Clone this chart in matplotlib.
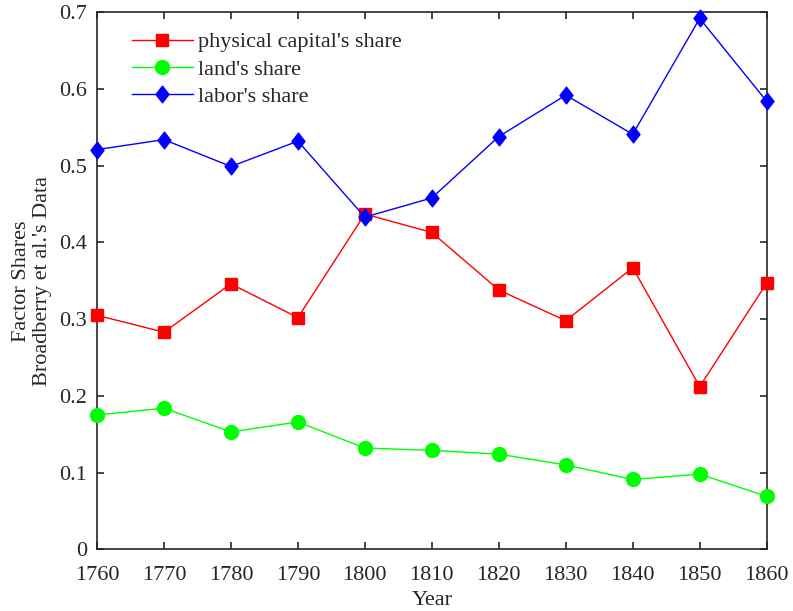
import matplotlib
matplotlib.use("Agg")
import matplotlib.pyplot as plt
from matplotlib.path import Path

years = [1760, 1770, 1780, 1790, 1800, 1810, 1820, 1830, 1840, 1850, 1860]
capital_share = [0.305, 0.283, 0.346, 0.302, 0.437, 0.413, 0.338, 0.298, 0.367, 0.212, 0.347]
land_share = [0.175, 0.184, 0.153, 0.166, 0.132, 0.129, 0.124, 0.110, 0.091, 0.098, 0.069]
labor_share = [0.521, 0.534, 0.499, 0.532, 0.433, 0.458, 0.538, 0.592, 0.541, 0.692, 0.584]

x_ticks = [1760, 1770, 1780, 1790, 1800, 1810, 1820, 1830, 1840, 1850, 1860]
y_ticks = [0, 0.1, 0.2, 0.3, 0.4, 0.5, 0.6, 0.7]
y_tick_labels = ["0", "0.1", "0.2", "0.3", "0.4", "0.5", "0.6", "0.7"]

plt.rcParams["font.family"] = ["Liberation Serif", "DejaVu Serif"]
ink = "#262626"

# tall diamond marker
diamond = Path([(0, 1), (0.78, 0), (0, -1), (-0.78, 0), (0, 1)],
               [Path.MOVETO, Path.LINETO, Path.LINETO, Path.LINETO, Path.CLOSEPOLY])

fig = plt.figure(figsize=(7.93, 6.11), dpi=100)
ax = fig.add_axes([0.1223, 0.1010, 0.8445, 0.8789])

ax.plot(years, capital_share, color="#ff0000", lw=1.0, marker="s", ms=9,
        mec="#ff0000", mfc="#ff0000", label="physical capital's share",
        clip_on=False, zorder=3)
ax.plot(years, land_share, color="#00ff00", lw=1.0, marker="o", ms=10,
        mec="#00ff00", mfc="#00ff00", label="land's share",
        clip_on=False, zorder=3)
ax.plot(years, labor_share, color="#0000ff", lw=1.0, marker=diamond, ms=12,
        mec="#0000ff", mfc="#0000ff", label="labor's share",
        clip_on=False, zorder=3)

ax.set_xlim(1760, 1860)
ax.set_ylim(0, 0.7)
ax.set_xticks(x_ticks)
ax.set_xticklabels([str(v) for v in x_ticks])
ax.set_yticks(y_ticks)
ax.set_yticklabels(y_tick_labels)

for sp in ax.spines.values():
    sp.set_color(ink)
    sp.set_linewidth(1.2)
ax.tick_params(direction="in", length=5, width=1.2, colors=ink, labelsize=16,
               top=True, right=True)
ax.tick_params(axis="x", pad=12)
ax.tick_params(axis="y", pad=7)

ax.set_xlabel("Year", fontsize=16, color=ink, labelpad=4)
ax.set_ylabel("Factor Shares\nBroadberry et al.'s Data", fontsize=16, color=ink,
              labelpad=5, linespacing=1.15)

leg = ax.legend(loc="upper left", bbox_to_anchor=(0.166, 0.948),
                bbox_transform=fig.transFigure, frameon=False, fontsize=16,
                handlelength=2.75, handletextpad=0.25, labelspacing=0.3,
                borderaxespad=0, borderpad=0)
for t in leg.get_texts():
    t.set_color(ink)

fig.savefig("out.png", dpi=100)
